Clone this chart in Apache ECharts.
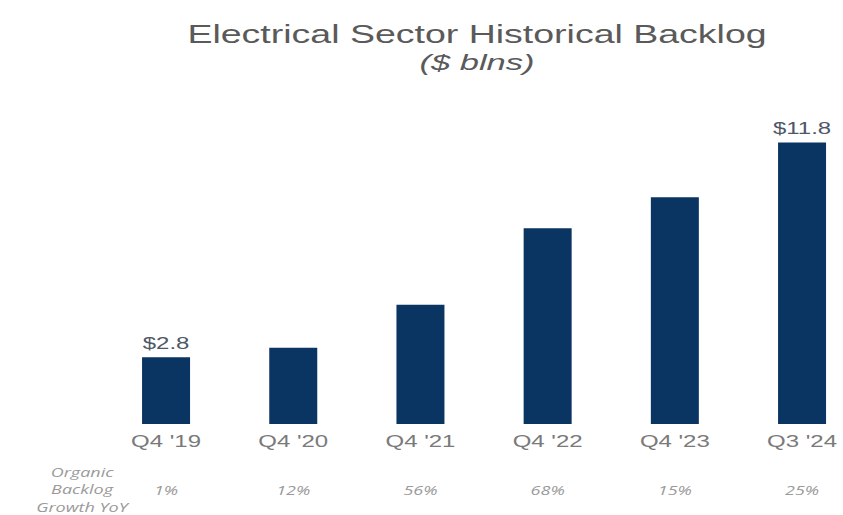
<!DOCTYPE html>
<html>
<head>
<meta charset="utf-8">
<script src="https://cdn.jsdelivr.net/npm/echarts@6/dist/echarts.min.js"></script>
<style>
html,body{margin:0;padding:0;background:#fff;overflow:hidden;width:843px;height:515px}
#c{width:562px;height:515px;transform:scaleX(1.5);transform-origin:0 0}
</style>
</head>
<body>
<div id="c"></div>
<script>
const categories = ["Q4 '19", "Q4 '20", "Q4 '21", "Q4 '22", "Q4 '23", "Q3 '24"];
const backlog = [2.8, 3.2, 5.0, 8.2, 9.5, 11.8];
const growthYoY = ["1%", "12%", "56%", "68%", "15%", "25%"];
const growthRowTitle = ["Organic", "Backlog", "Growth YoY"];
const labelledIndex = [0, 5];

const chart = echarts.init(document.getElementById('c'), null, {renderer: 'svg'});
const rowFont = {fontFamily: 'Open Sans, sans-serif', fontSize: 12, fontStyle: 'italic', fill: '#9a9a9a'};
chart.setOption({
  backgroundColor: '#ffffff',
  animation: false,
  title: {
    text: 'Electrical Sector Historical Backlog',
    subtext: '($ blns)',
    left: 313, top: 17, textAlign: 'center', itemGap: 3,
    textStyle: {fontFamily: 'Liberation Sans, Arial', fontSize: 25, fontWeight: 'normal', color: '#5a5a5a'},
    subtextStyle: {fontFamily: 'Liberation Sans, Arial', fontSize: 23, fontStyle: 'italic', color: '#5a5a5a'}
  },
  grid: {left: 68.3, width: 508.8, top: 90, bottom: 91, containLabel: false, outerBoundsMode: 'none'},
  xAxis: [{
    type: 'category', data: categories, position: 'bottom',
    axisLine: {show: false}, axisTick: {show: false},
    axisLabel: {margin: 10, fontFamily: 'Liberation Sans, Arial', fontSize: 16, color: '#7a7a7a'}
  }, {
    type: 'category', data: growthYoY, position: 'bottom', offset: 60,
    axisLine: {show: false}, axisTick: {show: false},
    axisLabel: {margin: 0, fontFamily: 'Open Sans, sans-serif', fontSize: 12, fontStyle: 'italic', color: '#9a9a9a'}
  }],
  yAxis: {type: 'value', min: 0, max: 14, show: false, splitLine: {show: false}},
  series: [{
    type: 'bar', data: backlog.map((v, i) => ({
      value: v,
      label: {show: labelledIndex.includes(i)}
    })),
    barWidth: 32,
    itemStyle: {color: '#0a3461'},
    label: {
      position: 'top', distance: 6,
      formatter: p => '$' + p.value.toFixed(1),
      fontFamily: 'Liberation Sans, Arial', fontSize: 16, color: '#4e5866'
    }
  }],
  graphic: growthRowTitle.map((t, i) => ({
    type: 'text', x: 54.7, y: 472 + i * 17.5,
    style: Object.assign({text: t, textAlign: 'center', textVerticalAlign: 'middle'}, rowFont)
  }))
});
</script>
</body>
</html>
